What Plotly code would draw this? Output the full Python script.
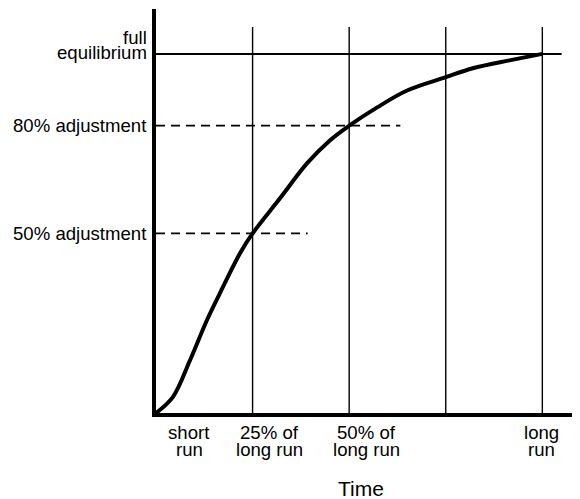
import plotly.graph_objects as go

# Adjustment path (percent of full equilibrium) over time (units of 25% of long run)
curve_x = [0, 0.176, 0.352, 0.528, 0.662, 0.870, 1.0, 1.284, 1.563, 1.80, 2.0, 2.29, 2.60, 3.0, 3.28, 3.66, 4.0]
curve_y = [0, 4.5, 14.7, 25.9, 33.4, 44.5, 50, 59.8, 69.5, 75.9, 80, 85.1, 89.8, 93.5, 96.0, 98.2, 100]

# Vertical reference lines (time marks)
vline_x = [1, 2, 3, 4]
vline_top = 107.5

# Horizontal reference levels
full_level = 100
full_end = 4.2
adj_levels = [80, 50]
adj_ends = [2.53, 1.57]

# Label texts
y_labels = ["80% adjustment", "50% adjustment"]
full_lines = ["full", "equilibrium"]
full_label_y = [104.6, 100.4]
x_label_pos = [0.345, 1.175, 2.18, 3.99]
x_label_top = ["short", "25% of", "50% of", "long"]
x_label_bot = ["run", "long run", "long run", "run"]
x_title = "Time"

FONT = "Liberation Sans, Arial, Helvetica, sans-serif"
LABEL_SIZE = 18.6

fig = go.Figure()

for vx in vline_x:
    fig.add_trace(go.Scatter(x=[vx, vx], y=[0, vline_top], mode="lines",
                             line=dict(color="black", width=1.4),
                             hoverinfo="skip", showlegend=False))

fig.add_trace(go.Scatter(x=[0, full_end], y=[full_level, full_level], mode="lines",
                         line=dict(color="black", width=2), hoverinfo="skip", showlegend=False))

for lvl, end in zip(adj_levels, adj_ends):
    fig.add_trace(go.Scatter(x=[0, end], y=[lvl, lvl], mode="lines",
                             line=dict(color="black", width=1.8, dash="9px,6px"),
                             hoverinfo="skip", showlegend=False))

fig.add_trace(go.Scatter(x=curve_x, y=curve_y, mode="lines",
                         line=dict(color="black", width=4, shape="spline", smoothing=1.0),
                         hoverinfo="skip", showlegend=False, cliponaxis=False))

annotations = []
for txt, lvl in zip(y_labels, adj_levels):
    annotations.append(dict(x=0, xref="paper", y=lvl, yref="y", text=txt, showarrow=False,
                            xanchor="right", yanchor="middle", xshift=-7,
                            font=dict(size=LABEL_SIZE, color="black", family=FONT)))
for txt, yy in zip(full_lines, full_label_y):
    annotations.append(dict(x=0, xref="paper", y=yy, yref="y", text=txt, showarrow=False,
                            xanchor="right", yanchor="middle", xshift=-7,
                            font=dict(size=LABEL_SIZE, color="black", family=FONT)))
for xx, t1, t2 in zip(x_label_pos, x_label_top, x_label_bot):
    annotations.append(dict(x=xx, xref="x", y=0, yref="y", text=t1, showarrow=False,
                            xanchor="center", yanchor="middle", yshift=-19,
                            font=dict(size=LABEL_SIZE, color="black", family=FONT)))
    annotations.append(dict(x=xx, xref="x", y=0, yref="y", text=t2, showarrow=False,
                            xanchor="center", yanchor="middle", yshift=-36,
                            font=dict(size=LABEL_SIZE, color="black", family=FONT)))
annotations.append(dict(x=2.12, xref="x", y=0, yref="y", text=x_title, showarrow=False,
                        xanchor="center", yanchor="middle", yshift=-75,
                        font=dict(size=21, color="black", family=FONT)))

# The page body adds an 8px offset, so the figure is 8px smaller and shifted
fig.update_layout(
    width=572, height=491,
    margin=dict(l=148, r=0, t=1, b=86),
    paper_bgcolor="white", plot_bgcolor="white",
    xaxis=dict(range=[0, 4.39], showgrid=False, zeroline=False, showticklabels=False,
               ticks="", showline=True, linecolor="black", linewidth=3.5),
    yaxis=dict(range=[0, 112.5], showgrid=False, zeroline=False, showticklabels=False,
               ticks="", showline=True, linecolor="black", linewidth=4),
    annotations=annotations,
    showlegend=False,
)

fig.write_html("out.html")
